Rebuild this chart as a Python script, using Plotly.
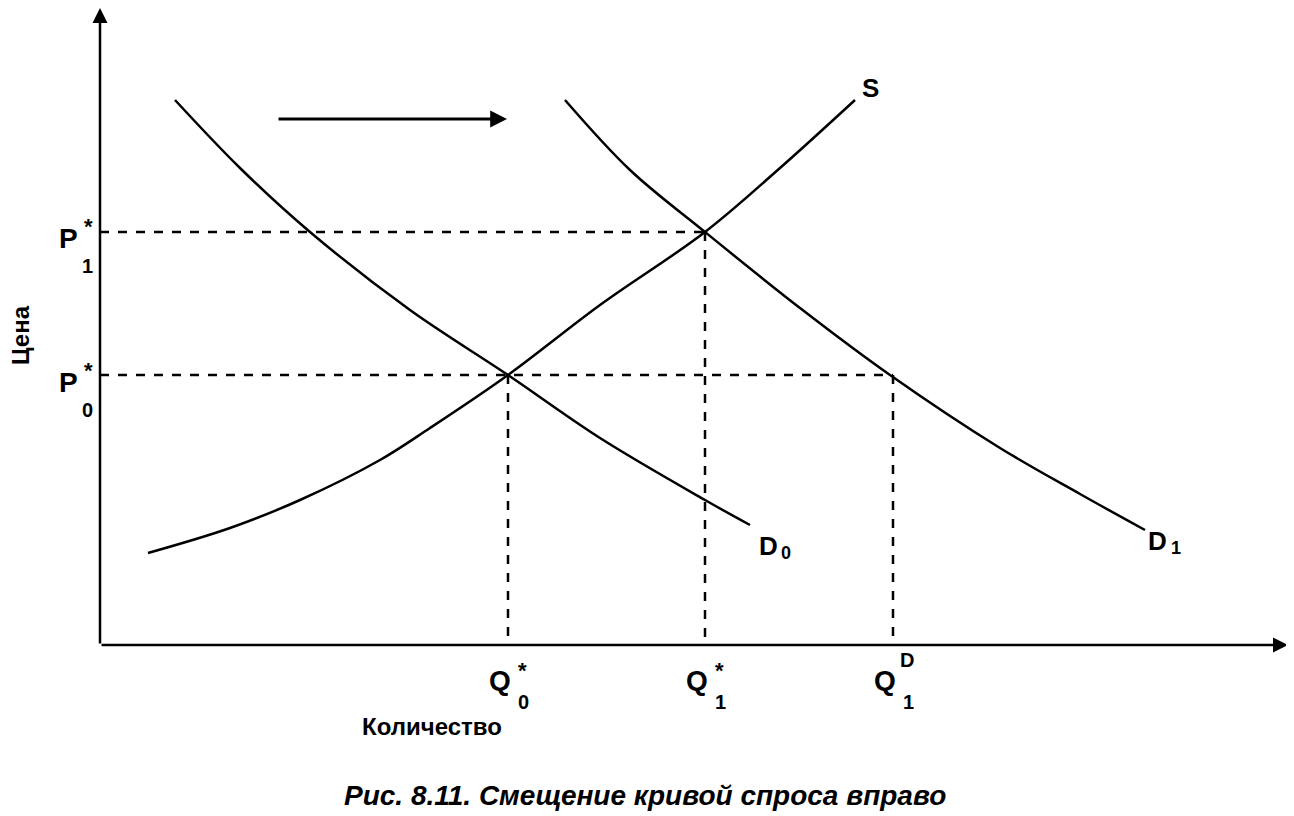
import plotly.graph_objects as go

# Curve points (picture coordinates: x right, y down)
d0_x = [175, 240, 310, 410, 508, 600, 705, 750]
d0_y = [100, 168, 232, 310, 375, 438, 500, 525]
d1_x = [565, 630, 705, 800, 890, 1000, 1080, 1145]
d1_y = [100, 170, 232, 308, 375, 448, 494, 530]
s_x = [148, 230, 300, 380, 430, 508, 600, 705, 780, 855]
s_y = [553, 528, 500, 460, 428, 375, 305, 232, 168, 100]

origin = (100, 645)
p_levels = [232, 375]          # P1*, P0*
q_levels = [508, 705, 893]     # Q0*, Q1*, Q1D
p_ends = [705, 893]

fig = go.Figure()
for xs, ys in [(d0_x, d0_y), (d1_x, d1_y), (s_x, s_y)]:
    fig.add_trace(go.Scatter(x=xs, y=ys, mode="lines",
                             line=dict(color="black", width=2.5, shape="spline"),
                             hoverinfo="skip", showlegend=False))

shapes = []
for py, xe in zip(p_levels, p_ends):
    shapes.append(dict(type="line", x0=origin[0], x1=xe, y0=py, y1=py,
                       line=dict(color="black", width=2.5, dash="dash")))
for qx, yt in zip(q_levels, [375, 232, 375]):
    shapes.append(dict(type="line", x0=qx, x1=qx, y0=yt, y1=origin[1],
                       line=dict(color="black", width=2.5, dash="dash")))

F = "Liberation Sans, Arial, sans-serif"
ann = []
def txt(x, y, t, size=26, bold=True, **kw):
    if bold:
        t = "<b>" + t + "</b>"
    ann.append(dict(x=x, y=y, text=t, showarrow=False, font=dict(family=F, size=size, color="black"), **kw))

ann.append(dict(x=origin[0], y=8, ax=origin[0], ay=origin[1], xref="x", yref="y", axref="x", ayref="y",
                text="", showarrow=True, arrowhead=2, arrowsize=1.2, arrowwidth=2.5, arrowcolor="black"))
ann.append(dict(x=1288, y=origin[1], ax=origin[0], ay=origin[1], xref="x", yref="y", axref="x", ayref="y",
                text="", showarrow=True, arrowhead=2, arrowsize=1.2, arrowwidth=2.5, arrowcolor="black"))
ann.append(dict(x=507, y=119, ax=277, ay=119, xref="x", yref="y", axref="x", ayref="y",
                text="", showarrow=True, arrowhead=2, arrowsize=1.2, arrowwidth=2.8, arrowcolor="black"))

for (px, py, sub) in [(68, 238, "1"), (68, 382, "0")]:
    txt(px, py, "P", 28)
    txt(px + 20, py - 12, "*", 22)
    txt(px + 19, py + 28, sub, 20)
for (qx, sup, sub) in [(500, "*", "0"), (697, "*", "1"), (885, "D", "1")]:
    txt(qx, 680, "Q", 28)
    txt(qx + 22, 670 if sup == "*" else 660, sup, 22 if sup == "*" else 20)
    txt(qx + 23, 702, sub, 20)

txt(870, 88, "S", 26)
txt(768, 546, "D", 26); txt(786, 553, "0", 18)
txt(1157, 541, "D", 26); txt(1176, 548, "1", 18)
txt(20, 335, "Цена", 24, textangle=-90)
txt(432, 726, "Количество", 24)
txt(645, 795, "<i>Рис. 8.11. Смещение кривой спроса вправо</i>", 28)

fig.update_layout(width=1294, height=816, margin=dict(l=0, r=0, t=0, b=0),
                  plot_bgcolor="white", paper_bgcolor="white",
                  shapes=shapes, annotations=ann,
                  xaxis=dict(range=[8, 1302], visible=False),
                  yaxis=dict(range=[824, 8], visible=False))
fig.write_html("out.html")
